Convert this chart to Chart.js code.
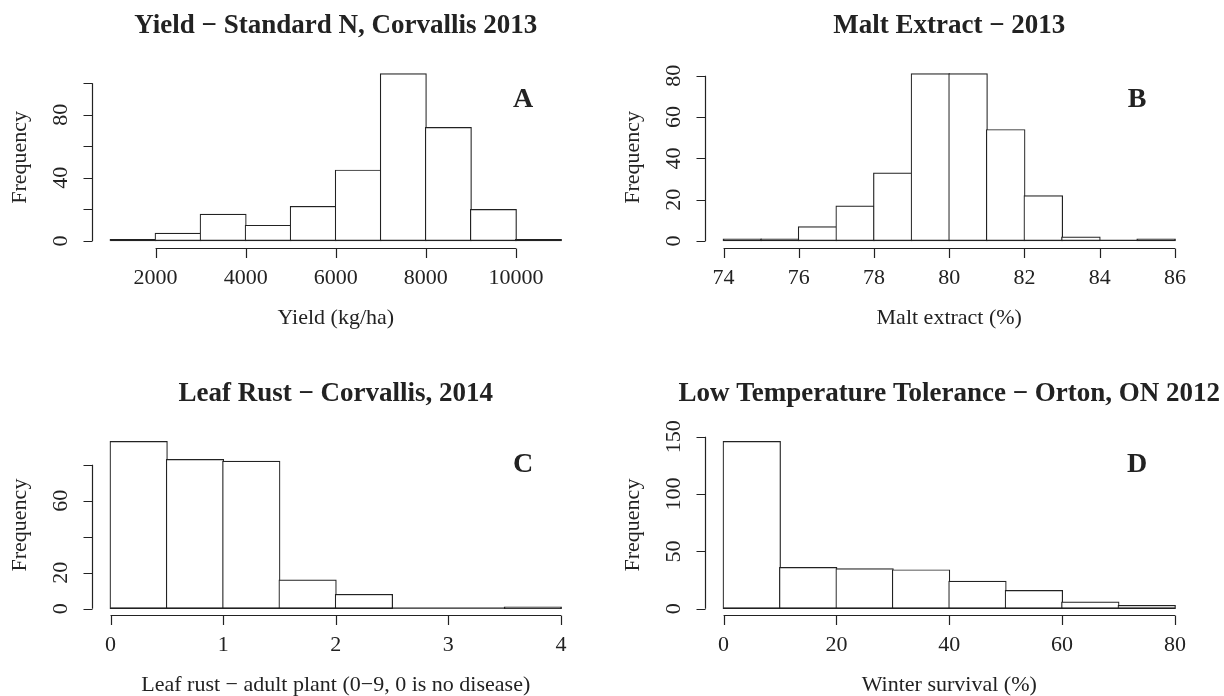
<!DOCTYPE html>
<html>
  <head>
    <title>Histograms - yield, malt extract, leaf rust, winter survival</title>
    <meta charset="UTF-8" />
    <script src="https://cdn.jsdelivr.net/npm/chart.js"></script>
    <style>
      body { margin: 0; background: #fff; }
      canvas { position: absolute; }
    </style>
  </head>

  <body>
    <canvas id="chartA" width="612" height="348" style="left:0;top:0"></canvas>
    <canvas id="chartB" width="612" height="348" style="left:612px;top:0"></canvas>
    <canvas id="chartC" width="612" height="348" style="left:0;top:348px"></canvas>
    <canvas id="chartD" width="612" height="348" style="left:612px;top:348px"></canvas>

    <script>
      // A - yield, bins of 1000 kg/ha
      const yieldEdges = [1000, 2000, 3000, 4000, 5000, 6000, 7000, 8000, 9000, 10000, 11000];
      const yieldCounts = [1, 5, 17, 10, 22, 45, 106, 72, 20, 1];
      const yieldXTicks = [2000, 4000, 6000, 8000, 10000];
      const yieldYTicks = [0, 20, 40, 60, 80, 100];
      const yieldYLabels = ["0", "", "40", "", "80", ""];

      // B - malt extract, bins of 1 %
      const maltEdges = [74, 75, 76, 77, 78, 79, 80, 81, 82, 83, 84, 85, 86];
      const maltCounts = [1, 1, 7, 17, 33, 81, 81, 54, 22, 2, 0, 1];
      const maltXTicks = [74, 76, 78, 80, 82, 84, 86];
      const maltYTicks = [0, 20, 40, 60, 80];
      const maltYLabels = ["0", "20", "40", "60", "80"];

      // C - leaf rust score, bins of 0.5
      const rustEdges = [0, 0.5, 1, 1.5, 2, 2.5, 3, 3.5, 4];
      const rustCounts = [93, 83, 82, 16, 8, 0, 0, 1];
      const rustXTicks = [0, 1, 2, 3, 4];
      const rustYTicks = [0, 20, 40, 60, 80];
      const rustYLabels = ["0", "20", "", "60", ""];

      // D - winter survival, bins of 10 %
      const winterEdges = [0, 10, 20, 30, 40, 50, 60, 70, 80];
      const winterCounts = [146, 36, 35, 34, 24, 16, 6, 3];
      const winterXTicks = [0, 20, 40, 60, 80];
      const winterYTicks = [0, 50, 100, 150];
      const winterYLabels = ["0", "50", "100", "150"];

      const ink = "#222222";
      const lw = 1.2;
      const serif = '"Liberation Serif", "Times New Roman", serif';

      // R style: axes detached, range padded by 4%
      function padRange(lo, hi) {
        const d = (hi - lo) * 0.04;
        return [lo - d, hi + d];
      }

      const rAxes = {
        id: "rAxes",
        afterDraw(chart, args, o) {
          const { ctx, chartArea: a, scales: { x, y } } = chart;
          ctx.save();
          ctx.strokeStyle = ink;
          ctx.fillStyle = ink;
          ctx.lineWidth = lw;

          // baseline under every bin, empty ones too
          const y0 = y.getPixelForValue(0) - lw / 2;
          ctx.beginPath();
          ctx.moveTo(x.getPixelForValue(o.edges[0]), y0);
          ctx.lineTo(x.getPixelForValue(o.edges[o.edges.length - 1]), y0);
          ctx.stroke();

          // x axis
          const xb = Math.round(a.bottom) + 0.5;
          const xt = o.xTicks;
          ctx.beginPath();
          ctx.moveTo(x.getPixelForValue(xt[0]), xb);
          ctx.lineTo(x.getPixelForValue(xt[xt.length - 1]), xb);
          xt.forEach(v => {
            const px = Math.round(x.getPixelForValue(v)) + 0.5;
            ctx.moveTo(px, xb);
            ctx.lineTo(px, xb + 9.5);
          });
          ctx.stroke();
          ctx.font = "22px " + serif;
          ctx.textAlign = "center";
          ctx.textBaseline = "middle";
          xt.forEach(v => ctx.fillText(String(v), x.getPixelForValue(v), xb + 29.5));
          ctx.fillText(o.xTitle, (a.left + a.right) / 2, xb + 70);

          // y axis
          const yl = Math.round(a.left) - 0.5;
          const yt = o.yTicks;
          ctx.beginPath();
          ctx.moveTo(yl, y.getPixelForValue(yt[0]));
          ctx.lineTo(yl, y.getPixelForValue(yt[yt.length - 1]));
          yt.forEach(v => {
            const py = Math.round(y.getPixelForValue(v)) + 0.5;
            ctx.moveTo(yl, py);
            ctx.lineTo(yl - 9, py);
          });
          ctx.stroke();
          yt.forEach((v, i) => {
            if (!o.yLabels[i]) return;
            ctx.save();
            ctx.translate(yl - 31, y.getPixelForValue(v));
            ctx.rotate(-Math.PI / 2);
            ctx.fillText(o.yLabels[i], 0, 0);
            ctx.restore();
          });
          ctx.save();
          ctx.translate(yl - 72, (a.top + a.bottom) / 2);
          ctx.rotate(-Math.PI / 2);
          ctx.fillText("Frequency", 0, 0);
          ctx.restore();

          // main title and panel letter
          ctx.font = "bold 27px " + serif;
          ctx.textBaseline = "alphabetic";
          ctx.fillText(o.title, (a.left + a.right) / 2, a.top - o.titleGap);
          ctx.font = "bold 28px " + serif;
          ctx.textBaseline = "middle";
          ctx.fillText(o.letter, a.right - 56, a.top + o.letterGap);
          ctx.restore();
        }
      };

      function makeHist(id, edges, counts, xTicks, yTicks, yLabels, text, pad) {
        const [xmin, xmax] = padRange(edges[0], edges[edges.length - 1]);
        const [ymin, ymax] = padRange(0, Math.max(...counts));
        const binW = edges[1] - edges[0];
        const plotW = 612 - pad.left - pad.right;
        const binPx = plotW * binW / (xmax - xmin);

        return new Chart(document.getElementById(id), {
          type: "bar",
          data: {
            datasets: [{
              data: counts.map((c, i) => ({ x: edges[i] + binW / 2, y: c })),
              backgroundColor: "#ffffff",
              borderColor: ink,
              borderWidth: lw,
              borderSkipped: false,
              // one border width wider so neighbouring outlines overlap into one line
              barThickness: binPx + lw
            }]
          },
          options: {
            responsive: false,
            animation: false,
            layout: { padding: pad },
            scales: {
              x: { type: "linear", min: xmin, max: xmax, offset: false, display: false },
              y: { type: "linear", min: ymin, max: ymax, display: false }
            },
            plugins: {
              legend: { display: false },
              tooltip: { enabled: false },
              rAxes: Object.assign({ edges, xTicks, yTicks, yLabels }, text)
            }
          },
          plugins: [rAxes]
        });
      }

      const padTopLeft = { left: 92.5, right: 33, top: 67, bottom: 100.3 };
      const padTopRight = { left: 93.5, right: 31, top: 67, bottom: 100.3 };
      const padBotLeft = { left: 92.5, right: 33, top: 86.7, bottom: 80.6 };
      const padBotRight = { left: 93.5, right: 31, top: 86.7, bottom: 80.6 };

      makeHist("chartA", yieldEdges, yieldCounts, yieldXTicks, yieldYTicks, yieldYLabels,
        { title: "Yield \u2212 Standard N, Corvallis 2013", xTitle: "Yield (kg/ha)", letter: "A", titleGap: 34, letterGap: 33 },
        padTopLeft);
      makeHist("chartB", maltEdges, maltCounts, maltXTicks, maltYTicks, maltYLabels,
        { title: "Malt Extract \u2212 2013", xTitle: "Malt extract (%)", letter: "B", titleGap: 34, letterGap: 33 },
        padTopRight);
      makeHist("chartC", rustEdges, rustCounts, rustXTicks, rustYTicks, rustYLabels,
        { title: "Leaf Rust \u2212 Corvallis, 2014", xTitle: "Leaf rust \u2212 adult plant (0\u22129, 0 is no disease)", letter: "C", titleGap: 34, letterGap: 30 },
        padBotLeft);
      makeHist("chartD", winterEdges, winterCounts, winterXTicks, winterYTicks, winterYLabels,
        { title: "Low Temperature Tolerance \u2212 Orton, ON 2012", xTitle: "Winter survival (%)", letter: "D", titleGap: 34, letterGap: 30 },
        padBotRight);
    </script>
  </body>
</html>
